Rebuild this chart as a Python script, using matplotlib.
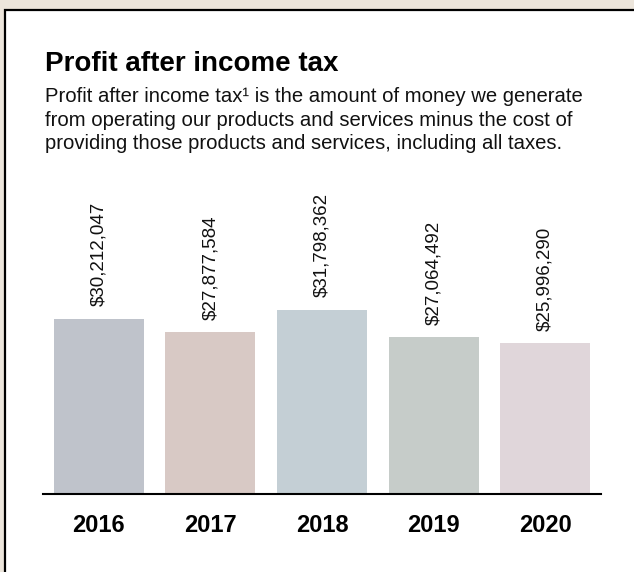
import matplotlib
matplotlib.use('Agg')
import matplotlib.pyplot as plt
import matplotlib.patches as patches

W, H = 634, 572  # 图像尺寸(像素)
DPI = 100

years = ['2016', '2017', '2018', '2019', '2020']
profit = [30212047, 27877584, 31798362, 27064492, 25996290]
bar_colors = ['#bfc3cb', '#d8c9c5', '#c4cfd5', '#c6ccc9', '#e0d6da']

title = 'Profit after income tax'
subtitle = ['Profit after income tax\u00b9 is the amount of money we generate',
            'from operating our products and services minus the cost of',
            'providing those products and services, including all taxes.']

plt.rcParams['font.family'] = ['Liberation Sans', 'DejaVu Sans']

fig = plt.figure(figsize=(W / DPI, H / DPI), dpi=DPI)
fig.patch.set_facecolor('#ece5db')


def px(x, y):  # 像素坐标(左上为原点) -> figure 坐标
    return x / W, 1 - y / H


# 白色面板和黑色边框
x0, y0 = px(5, 10)
panel = patches.Rectangle((x0, -0.05), 1.05 - x0, y0 + 0.05, transform=fig.transFigure,
                          facecolor='white', edgecolor='black', linewidth=1.6, zorder=-1)
fig.patches.append(panel)

tx, ty = px(45, 71)
fig.text(tx, ty, title, fontsize=20, fontweight='bold', va='baseline', ha='left')
for k, line in enumerate(subtitle):
    sx, sy = px(45, 102 + 23.5 * k)
    fig.text(sx, sy, line, fontsize=14.6, va='baseline', ha='left', color='#111111')

# 柱状图区域
left, bottom = px(43, 494)
right, top = px(601, 291)
ax = fig.add_axes([left, bottom, right - left, top - bottom])
ax.set_facecolor('none')
ax.bar(range(len(years)), profit, width=0.805, color=bar_colors)
ax.set_xlim(-0.5, 4.5)
ax.set_ylim(0, 35e6)

for i, v in enumerate(profit):
    ax.annotate('${:,}'.format(v), (i, v), xytext=(0, 9), textcoords='offset points',
                rotation=90, ha='center', va='bottom', fontsize=13.5, color='#111111')

for s in ['top', 'right', 'left']:
    ax.spines[s].set_visible(False)
ax.spines['bottom'].set_linewidth(1.5)
ax.set_yticks([])
ax.set_xticks(range(len(years)))
ax.set_xticklabels(years, fontsize=17, fontweight='bold')
ax.tick_params(axis='x', length=0, pad=14.5)

fig.savefig('out.png', dpi=DPI, facecolor=fig.get_facecolor())
